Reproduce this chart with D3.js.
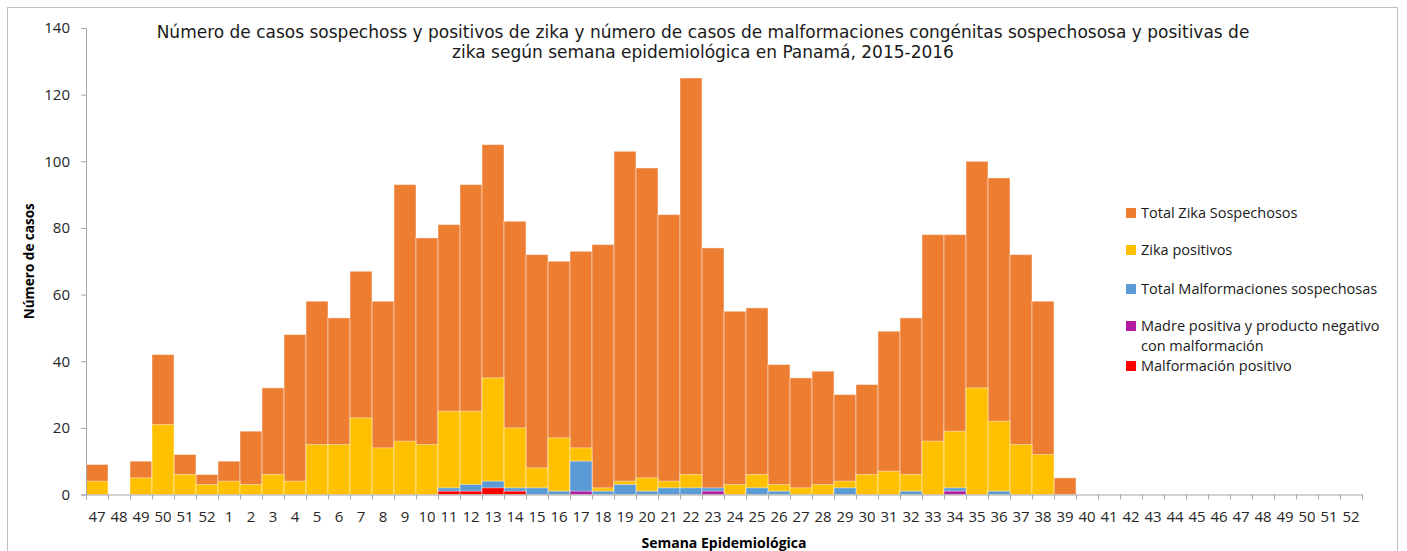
<!DOCTYPE html>
<html>
<head>
<meta charset="utf-8">
<script src="https://cdn.jsdelivr.net/npm/d3@7.9.0/dist/d3.min.js"></script>
<style>
  body { margin: 0; background: #fff; }
  svg { display: block; }
  .tick text { fill: #262626; }
</style>
</head>
<body>
<svg id="chart" width="1407" height="551"></svg>
<script>
// semanas epidemiológicas: 47-52 de 2015, 1-52 de 2016
const weeks = ["47","48","49","50","51","52",
  "1","2","3","4","5","6","7","8","9","10","11","12","13","14","15","16","17","18","19","20",
  "21","22","23","24","25","26","27","28","29","30","31","32","33","34","35","36","37","38","39","40",
  "41","42","43","44","45","46","47","48","49","50","51","52"];

const totalSospechosos = [9,0,10,42,12,6,
  10,19,32,48,58,53,67,58,93,77,81,93,105,82,72,70,73,75,103,98,
  84,125,74,55,56,39,35,37,30,33,49,53,78,78,100,95,72,58,5,0,
  0,0,0,0,0,0,0,0,0,0,0,0];

const zikaPositivos = [4,0,5,21,6,3,
  4,3,6,4,15,15,23,14,16,15,25,25,35,20,8,17,14,2,4,5,
  4,6,0,3,6,3,2,3,4,6,7,6,16,19,32,22,15,12,0,0,
  0,0,0,0,0,0,0,0,0,0,0,0];

const malfSospechosas = [0,0,0,0,0,0,
  0,0,0,0,0,0,0,0,0,0,2,3,4,2,2,1,10,1,3,1,
  2,2,2,0,2,1,0,0,2,0,0,1,0,2,0,1,0,0,0,0,
  0,0,0,0,0,0,0,0,0,0,0,0];

const madrePositiva = [0,0,0,0,0,0,
  0,0,0,0,0,0,0,0,0,0,0,0,0,0,0,0,1,0,0,0,
  0,0,1,0,0,0,0,0,0,0,0,0,0,1,0,0,0,0,0,0,
  0,0,0,0,0,0,0,0,0,0,0,0];

const malfPositivo = [0,0,0,0,0,0,
  0,0,0,0,0,0,0,0,0,0,1,1,2,1,0,0,0,0,0,0,
  0,0,0,0,0,0,0,0,0,0,0,0,0,0,0,0,0,0,0,0,
  0,0,0,0,0,0,0,0,0,0,0,0];

const yTicks = [0,20,40,60,80,100,120,140];

const series = [
  { name: "Total Zika Sospechosos", values: totalSospechosos, color: "#ED7D31" },
  { name: "Zika positivos", values: zikaPositivos, color: "#FFC000" },
  { name: "Total Malformaciones sospechosas", values: malfSospechosas, color: "#5B9BD5" },
  { name: "Madre positiva y producto negativo|con malformación", values: madrePositiva, color: "#B31CA0" },
  { name: "Malformación positivo", values: malfPositivo, color: "#FF0000" }
];

const svg = d3.select("#chart");
const plotLeft = 86, plotRight = 1362, plotTop = 28, plotBottom = 494.5;
const labelFont = "'Open Sans', sans-serif";

svg.append("rect")
  .attr("x", 7.5).attr("y", 7.5)
  .attr("width", 1390).attr("height", 560)
  .attr("fill", "#fff").attr("stroke", "#bfbfbf");

const x = d3.scaleBand().domain(d3.range(weeks.length)).range([plotLeft, plotRight]).padding(0);
const xEdge = d3.scaleLinear().domain([0, weeks.length]).range([plotLeft, plotRight]);
const y = d3.scaleLinear().domain([0, 140]).range([plotBottom, plotTop]);

// barras superpuestas (no apiladas)
series.forEach(s => {
  svg.append("g")
    .selectAll("rect")
    .data(s.values.map((v, i) => ({ v, i })).filter(d => d.v > 0))
    .join("rect")
      .attr("x", d => x(d.i))
      .attr("y", d => y(d.v))
      .attr("width", x.bandwidth())
      .attr("height", d => y(0) - y(d.v))
      .attr("fill", s.color)
      .attr("stroke", "#fff")
      .attr("stroke-opacity", 0.45)
      .attr("stroke-width", 1);
});

// eje Y
const yAxis = svg.append("g")
  .attr("transform", `translate(${plotLeft},0)`)
  .call(d3.axisLeft(y).tickValues(yTicks).tickSize(5).tickPadding(11));
yAxis.selectAll("text").style("font", `15px ${labelFont}`);

// eje X: marcas en los bordes, etiquetas centradas
svg.append("g")
  .attr("transform", `translate(0,${plotBottom})`)
  .call(d3.axisBottom(xEdge).tickValues(d3.range(weeks.length + 1)).tickSize(5).tickFormat(""));
const xLabels = svg.append("g")
  .attr("transform", `translate(0,${plotBottom})`)
  .call(d3.axisBottom(x).tickSize(0).tickPadding(17).tickFormat(i => weeks[i]));
xLabels.select(".domain").remove();
xLabels.selectAll("text").style("font", `15px ${labelFont}`);

svg.selectAll(".domain, .tick line").attr("stroke", "#a6a6a6");

// títulos
const title = svg.append("text")
  .attr("text-anchor", "middle")
  .style("font", "17px 'DejaVu Sans', Verdana, sans-serif")
  .attr("fill", "#1a1a1a");
title.append("tspan").attr("x", 703).attr("y", 37.5)
  .text("Número de casos sospechoss y positivos de zika y número de casos de malformaciones congénitas sospechososa y positivas de");
title.append("tspan").attr("x", 703).attr("y", 58)
  .text("zika según semana epidemiológica en Panamá, 2015-2016");

svg.append("text")
  .attr("x", (plotLeft + plotRight) / 2).attr("y", 547.5)
  .attr("text-anchor", "middle")
  .style("font", `bold 14px ${labelFont}`)
  .attr("fill", "#000")
  .text("Semana Epidemiológica");

svg.append("text")
  .attr("transform", `translate(34,${(plotTop + plotBottom) / 2}) rotate(-90)`)
  .attr("text-anchor", "middle")
  .style("font", `bold 13.5px ${labelFont}`)
  .attr("fill", "#000")
  .text("Número de casos");

// leyenda
const legendY = [213, 250, 289, 326, 366];
const legend = svg.append("g").style("font", `14.5px ${labelFont}`).attr("fill", "#1a1a1a");
series.forEach((s, i) => {
  legend.append("rect")
    .attr("x", 1126).attr("y", legendY[i] - 5)
    .attr("width", 10).attr("height", 10)
    .attr("fill", s.color);
  s.name.split("|").forEach((line, j) => {
    legend.append("text")
      .attr("x", 1141).attr("y", legendY[i] + j * 20)
      .attr("dy", "0.35em")
      .text(line);
  });
});
</script>
</body>
</html>
